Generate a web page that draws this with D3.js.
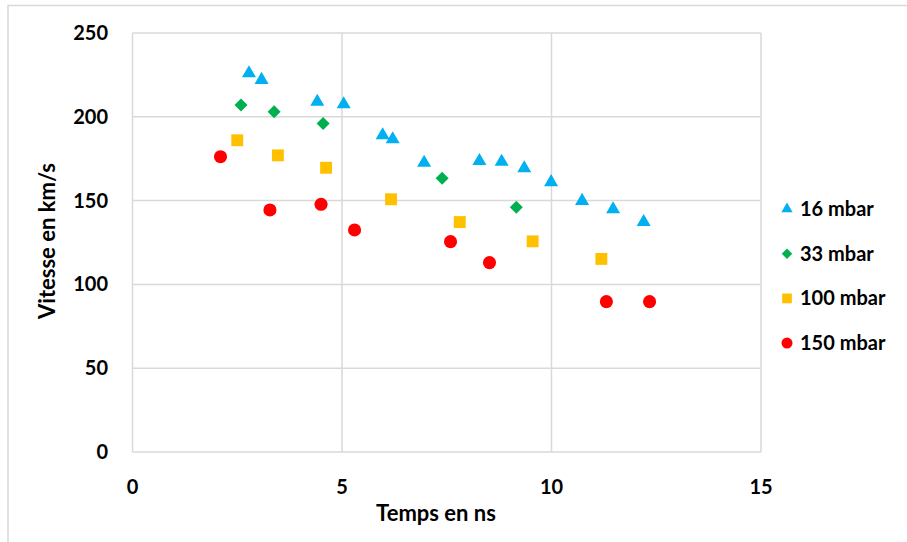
<!DOCTYPE html>
<html lang="fr">
<head>
<meta charset="UTF-8">
<title>Vitesse en fonction du temps</title>
<script src="https://d3js.org/d3.v7.min.js"></script>
<style>
  body { margin: 0; background: #fff; }
  svg { display: block; }
  text { font-family: Lato, "Open Sans", sans-serif; font-weight: bold; fill: #000; }
</style>
</head>
<body>
<div id="chart"></div>
<script>
// data (time in ns, speed in km/s)
const series = ["16 mbar", "33 mbar", "100 mbar", "150 mbar"];
const t16 = [2.78, 3.08, 4.41, 5.04, 5.97, 6.21, 6.96, 8.28, 8.81, 9.35, 9.99, 10.73, 11.47, 12.2];
const v16 = [226, 222, 209, 207.5, 189, 186.6, 172.6, 173.6, 173.2, 169.3, 161, 149.8, 144.8, 137.2];
const t33 = [2.59, 3.38, 4.55, 7.39, 9.16];
const v33 = [207, 203, 196, 163.3, 146];
const t100 = [2.5, 3.47, 4.62, 6.17, 7.81, 9.55, 11.19];
const v100 = [186, 177, 169.6, 150.8, 137.2, 125.7, 115.2];
const t150 = [2.1, 3.28, 4.5, 5.3, 7.59, 8.52, 11.31, 12.34];
const v150 = [176.2, 144.4, 147.8, 132.5, 125.5, 113, 89.7, 89.7];
const xTicks = [0, 5, 10, 15];
const yTicks = [0, 50, 100, 150, 200, 250];

const width = 907, height = 542;
const plotLeft = 132.5, plotRight = 761, plotTop = 33, plotBottom = 452;

const colors = ["#00B0F0", "#00B050", "#FFC000", "#FF0000"];
const symbols = [d3.symbolTriangle, d3.symbolDiamond2, d3.symbolSquare2, d3.symbolCircle];
const sizes = [85, 108, 180, 135];
const legendSizes = [55, 70, 120, 95];

const data = [[t16, v16], [t33, v33], [t100, v100], [t150, v150]].map(([t, v], i) => ({
  name: series[i],
  points: t.map((x, j) => ({ x: x, y: v[j] }))
}));

const svg = d3.select("#chart").append("svg")
  .attr("width", width)
  .attr("height", height);

// outer chart frame (only left and top edges show)
svg.append("path")
  .attr("d", `M8,${height} V5.5 H${width}`)
  .attr("fill", "none")
  .attr("stroke", "#d9d9d9")
  .attr("stroke-width", 1.5);

const x = d3.scaleLinear().domain([0, 15]).range([plotLeft, plotRight]);
const y = d3.scaleLinear().domain([0, 250]).range([plotBottom, plotTop]);

// gridlines
svg.append("g")
  .selectAll("line")
  .data(yTicks)
  .join("line")
  .attr("x1", plotLeft).attr("x2", plotRight)
  .attr("y1", d => y(d)).attr("y2", d => y(d))
  .attr("stroke", "#d9d9d9").attr("stroke-width", 1.5);

svg.append("g")
  .selectAll("line")
  .data(xTicks)
  .join("line")
  .attr("x1", d => x(d)).attr("x2", d => x(d))
  .attr("y1", plotTop).attr("y2", plotBottom)
  .attr("stroke", "#d9d9d9").attr("stroke-width", 1.5);

// tick labels
svg.append("g")
  .selectAll("text")
  .data(yTicks)
  .join("text")
  .attr("x", 108)
  .attr("y", d => y(d))
  .attr("dy", "0.35em")
  .attr("text-anchor", "end")
  .style("font-size", "20px")
  .text(d => d);

svg.append("g")
  .selectAll("text")
  .data(xTicks)
  .join("text")
  .attr("x", d => x(d))
  .attr("y", 487)
  .attr("dy", "0.35em")
  .attr("text-anchor", "middle")
  .style("font-size", "20px")
  .text(d => d);

// axis titles
svg.append("text")
  .attr("x", 436)
  .attr("y", 513)
  .attr("dy", "0.35em")
  .attr("text-anchor", "middle")
  .style("font-size", "22px")
  .text("Temps en ns");

svg.append("text")
  .attr("transform", `translate(47,241) rotate(-90)`)
  .attr("dy", "0.35em")
  .attr("text-anchor", "middle")
  .style("font-size", "22px")
  .text("Vitesse en km/s");

// points
data.forEach((s, i) => {
  svg.append("g")
    .selectAll("path")
    .data(s.points)
    .join("path")
    .attr("transform", d => `translate(${x(d.x)},${y(d.y)})`)
    .attr("d", d3.symbol().type(symbols[i]).size(sizes[i]))
    .attr("fill", colors[i]);
});

// legend
const legend = svg.append("g")
  .selectAll("g")
  .data(data)
  .join("g")
  .attr("transform", (d, i) => `translate(787,${209 + i * 44.7})`);

legend.append("path")
  .attr("d", (d, i) => d3.symbol().type(symbols[i]).size(legendSizes[i])())
  .attr("fill", (d, i) => colors[i]);

legend.append("text")
  .attr("x", 13)
  .attr("dy", "0.35em")
  .style("font-size", "20px")
  .text(d => d.name);
</script>
</body>
</html>
